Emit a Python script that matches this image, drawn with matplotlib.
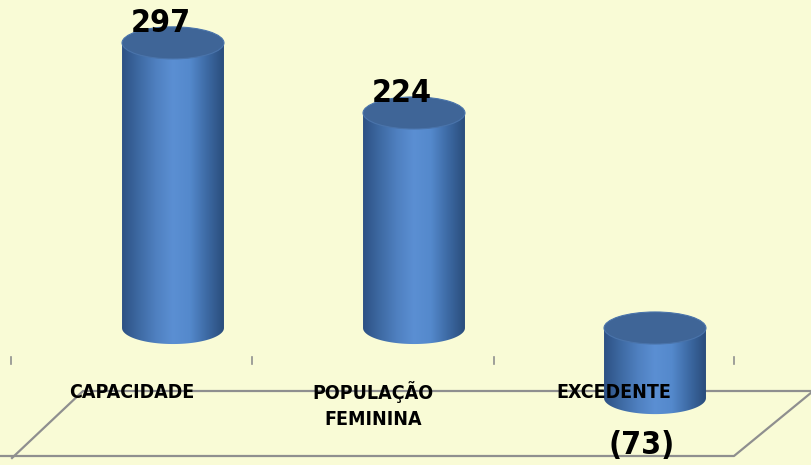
import numpy as np
import matplotlib
matplotlib.use("Agg")
import matplotlib.pyplot as plt
from matplotlib.patches import Ellipse, Polygon
from matplotlib.colors import LinearSegmentedColormap
from matplotlib.lines import Line2D

# --- data ---
categories = ["CAPACIDADE", "POPULAÇÃO\nFEMININA", "EXCEDENTE"]
values = [297, 224, -73]
value_labels = ["297", "224", "(73)"]

font = ["DejaVu Sans"]
bg = "#f9fbd6"

fig = plt.figure(figsize=(8.12, 4.65), dpi=100, facecolor=bg)
ax = fig.add_axes([0, 0, 1, 1])
ax.set_facecolor(bg)
ax.axis("off")

# pixel -> data mapping (x: 241 px per category, y: 0.96 px per unit)
x_lim = (-173 / 241, (812 - 173) / 241)
y_lim = (-137 / 0.96, (465 - 137) / 0.96)

bar_w = 0.423
ell_h = 33.4

body_cmap = LinearSegmentedColormap.from_list(
    "cyl", ["#2d5184", "#3e6aa3", "#4f80c0", "#5b8fd3", "#5489cc", "#3d6aa4", "#2a4d7c"])
grad = np.linspace(0, 1, 256)[None, :]

# floor plane (drawn behind the bars)
floor_x = np.array([12, 83, 812]) / 812
floor_y = 1 - np.array([458, 391, 391]) / 465
ax.add_line(Line2D(floor_x, floor_y, transform=ax.transAxes, color="#8f8f8f", lw=1.6, zorder=1))
ax.add_line(Line2D(np.array([0, 734, 812]) / 812, 1 - np.array([456, 456, 392]) / 465,
                   transform=ax.transAxes, color="#8f8f8f", lw=1.6, zorder=1))

# category tick marks
for xt in [-0.672, 0.328, 1.332, 2.328]:
    ax.plot([xt, xt], [1 - 357 / 465, 1 - 364 / 465], color="#8f8f8f", lw=1.2,
            transform=ax.get_xaxis_transform(), zorder=1)

for i, v in enumerate(values):
    x0, x1 = i - bar_w / 2, i + bar_w / 2
    y_top, y_bot = max(v, 0), min(v, 0)
    th = np.linspace(np.pi, 2 * np.pi, 60)
    pts = np.column_stack([i + bar_w / 2 * np.cos(th), y_bot + ell_h / 2 * np.sin(th)])
    pts = np.vstack([[x0, y_top], pts, [x1, y_top]])
    body = Polygon(pts, closed=True, facecolor="none", edgecolor="none", zorder=2)
    ax.add_patch(body)
    im = ax.imshow(grad, cmap=body_cmap, extent=[x0, x1, y_bot - ell_h, y_top],
                   aspect="auto", zorder=2, interpolation="bilinear")
    im.set_clip_path(body)
    ax.add_patch(Ellipse((i, y_top), bar_w, ell_h, facecolor="#3f6597",
                         edgecolor="#4a74ab", lw=0.8, zorder=3))

    if v >= 0:
        ax.annotate(value_labels[i], (i, v), xytext=(-12, 19), textcoords="offset pixels",
                    ha="center", va="center", fontsize=23, fontweight="bold",
                    fontstretch="condensed", family=font, color="black", zorder=5)
    else:
        ax.annotate(value_labels[i], (i, v), xytext=(-13, -47), textcoords="offset pixels",
                    ha="center", va="center", fontsize=23, fontweight="bold",
                    fontstretch="condensed", family=font, color="black", zorder=5)

for i, c in enumerate(categories):
    two_lines = "\n" in c
    ax.text(i - 0.17, 1 - (381 if two_lines else 392) / 465, c,
            transform=ax.get_xaxis_transform(),
            ha="center", va="top" if two_lines else "center", fontsize=14,
            fontweight="bold", fontstretch="condensed", family=font,
            linespacing=1.45, zorder=5)

ax.set_xlim(*x_lim)
ax.set_ylim(*y_lim)

fig.savefig("out.png", dpi=100, facecolor=bg)
